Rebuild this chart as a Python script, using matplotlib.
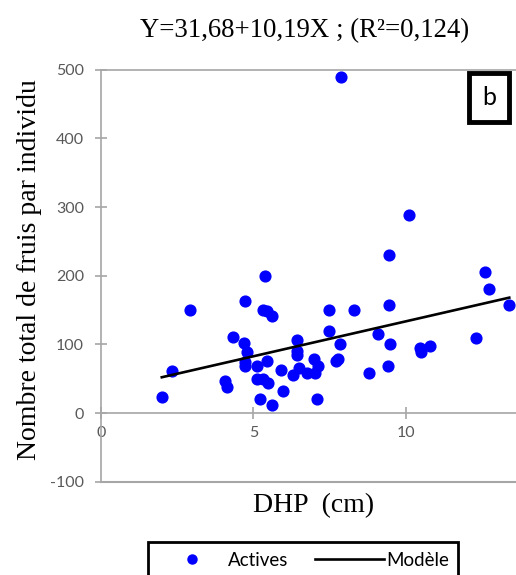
import numpy as np
import matplotlib.pyplot as plt
from matplotlib.lines import Line2D

plt.rcParams['axes.unicode_minus'] = False

# DHP (cm) and total number of fruits per individual
dhp = [2.0, 2.33, 2.92, 4.08, 4.14, 4.34, 4.71, 4.68, 4.80, 4.73, 4.73, 5.11, 5.11,
       5.20, 5.33, 5.49, 5.60, 5.38, 5.31, 5.44, 5.60, 5.44, 5.90, 5.98, 6.31, 6.44,
       6.42, 6.42, 6.50, 6.74, 6.99, 7.02, 7.13, 7.07, 7.49, 7.49, 7.84, 7.78, 7.71,
       7.87, 8.30, 8.80, 9.09, 9.44, 9.45, 9.48, 9.42, 10.11, 10.47, 10.48, 10.79,
       12.29, 12.59, 12.72, 13.38]
fruits = [23, 61, 150, 46, 38, 111, 163, 102, 89, 75, 69, 69, 49,
          20, 50, 44, 12, 200, 150, 148, 142, 76, 62, 32, 55, 106,
          91, 85, 66, 58, 79, 58, 69, 21, 150, 120, 100, 79, 76,
          489, 150, 58, 115, 230, 157, 100, 68, 288, 94, 89, 97,
          109, 206, 180, 157]

# model Y = a + bX
a, b = 31.68, 10.19
x_line = np.array([min(dhp), max(dhp)])
y_line = a + b * x_line

xticks = [0, 5, 10]
yticks = [-100, 0, 100, 200, 300, 400, 500]

grey = '#a6a6a6'
tickc = '#595959'
serif = 'Liberation Serif'
sans = 'Lato'

fig = plt.figure(figsize=(5.16, 5.75), dpi=100)
ax = fig.add_axes([0.1952, 0.1623, 0.8048, 0.7165])

ax.scatter(dhp, fruits, s=60, color='#0000ff', zorder=3, label='Actives')
ax.plot(x_line, y_line, color='black', lw=1.9, zorder=4, label='Modèle')

ax.set_xlim(0, 13.6)
ax.set_ylim(-100, 500)
ax.set_xticks(xticks)
ax.set_yticks(yticks)

for s in ['left', 'top']:
    ax.spines[s].set_color(grey)
    ax.spines[s].set_linewidth(1.2)
ax.spines['right'].set_visible(False)
ax.spines['bottom'].set_position(('data', 0))
ax.spines['bottom'].set_color(grey)
ax.spines['bottom'].set_linewidth(1.2)
ax.axhline(-100, color=grey, lw=1.5, clip_on=False)

ax.tick_params(axis='y', direction='inout', length=8, width=1.2, color=grey,
               labelcolor=tickc, labelsize=11.5, pad=8)
ax.tick_params(axis='x', direction='inout', length=8, width=1.2, color=grey,
               labelcolor=tickc, labelsize=11.5, pad=5)
for lab in ax.get_xticklabels() + ax.get_yticklabels():
    lab.set_family(sans)

ax.text(0.5136, -0.059, 'DHP  (cm)', transform=ax.transAxes, ha='center',
        va='center', fontsize=20, family=serif)
ax.text(-0.172, 0.515, 'Nombre total de fruis par individu', transform=ax.transAxes,
        ha='center', va='center', rotation=90, fontsize=20, family=serif)
fig.text(305 / 516, 1 - 31 / 575, 'Y=31,68+10,19X ; (R²=0,124)', ha='center',
         va='center', fontsize=19.3, family=serif)

ax.text(0.935, 0.932, 'b', transform=ax.transAxes, ha='center', va='center',
        fontsize=18, family=sans,
        bbox=dict(boxstyle='square,pad=0.52', fc='white', ec='black', lw=3.5))

handles = [Line2D([], [], ls='none', marker='o', color='#0000ff', markersize=6.5),
           Line2D([], [], color='black', lw=1.9)]
leg = fig.legend(handles, ['Actives', 'Modèle'], loc='center',
                 bbox_to_anchor=(303 / 516, 1 - 560 / 575), ncol=2,
                 prop={'family': sans, 'size': 13.5}, fancybox=False,
                 edgecolor='black', framealpha=1, borderpad=0.5,
                 handlelength=3.7, handletextpad=0.1, columnspacing=1.4,
                 borderaxespad=0)
leg.get_frame().set_linewidth(2)

fig.savefig('out.png', dpi=100)
